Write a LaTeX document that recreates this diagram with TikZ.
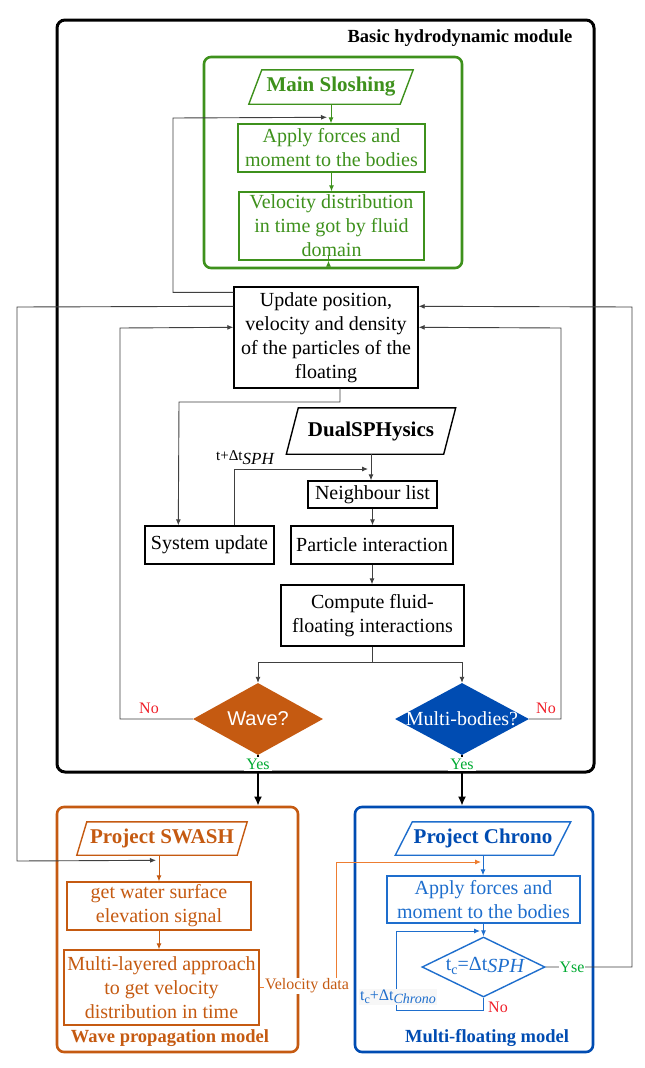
\documentclass[tikz,border=0pt]{standalone}
\usepackage{fontspec}
\setmainfont{Liberation Serif}
\newfontfamily\arialf{Liberation Sans}
\usetikzlibrary{arrows.meta,calc,shapes.geometric}
\definecolor{gC}{RGB}{62,145,28}
\definecolor{oC}{RGB}{197,90,17}
\definecolor{oL}{RGB}{237,125,49}
\definecolor{bD}{RGB}{0,76,178}
\definecolor{bM}{RGB}{30,110,205}
\definecolor{rC}{RGB}{240,30,40}
\definecolor{yC}{RGB}{0,170,50}
\definecolor{lnC}{RGB}{64,64,64}
\newcommand\myfz{\fontsize{20}{24}\selectfont}
\newcommand\myfb{\fontsize{21}{25}\selectfont\bfseries}
\newcommand\myft{\fontsize{18.5}{22}\selectfont\bfseries}
\newcommand\myfl{\fontsize{16}{18}\selectfont}
\begin{document}
\begin{tikzpicture}[x=1pt,y=-1pt,
  box/.style={draw, rectangle, inner sep=0pt, align=center, font=\myfz, line width=1.4pt},
  cont/.style={draw, rectangle, rounded corners=7pt, line width=2.6pt, inner sep=0pt},
  ptxt/.style={inner sep=0pt, font=\myfb},
  conn/.style={line width=0.9pt, draw=lnC},
  arr/.style={-{Latex[length=6pt,width=5pt]}},
  bigarr/.style={line width=2.2pt, draw=black, -{Latex[length=9pt,width=8pt]}},
  lbl/.style={inner sep=1.5pt, font=\myfl},
  dia/.style={diamond, inner sep=0pt}]
\useasboundingbox (0,0) rectangle (645,1068);
\fill[white] (0,0) rectangle (645,1068);

% containers
\node[cont, draw=black, line width=3pt, rounded corners=8pt, minimum width=537pt, minimum height=752pt] (basic) at (325.5,396) {};
\node[font=\myft] (basict) at (460,38) {Basic hydrodynamic module};
\node[cont, draw=gC, minimum width=258pt, minimum height=211pt] (gbox) at (333,162.5) {};
\node[cont, draw=oC, minimum width=241pt, minimum height=245pt] (obox) at (177.5,929.5) {};
\node[cont, draw=bD, minimum width=238pt, minimum height=245pt] (bbox) at (474,929.5) {};
\node[font=\myft, text=oC] (obt) at (170,1038) {Wave propagation model};
\node[font=\myft, text=bD] (bbt) at (487,1038) {Multi-floating model};

% green module
\node[ptxt, text=gC, minimum width=151pt, minimum height=34pt] (ms) at (331,87) {Main Sloshing};
\draw[gC, line width=1.4pt] ($(ms.south west)+(-6.5,0)$) -- ($(ms.north west)+(6.5,0)$) -- ($(ms.north east)+(6.5,0)$) -- ($(ms.south east)+(-6.5,0)$) -- cycle;
\node[box, draw=gC, text=gC, minimum width=187pt, minimum height=48pt] (ap1) at (331.5,148) {Apply forces and\\moment to the bodies};
\node[box, draw=gC, text=gC, minimum width=185pt, minimum height=68pt] (vel) at (331.5,226) {Velocity distribution\\in time got by fluid\\domain};

% black module
\node[box, minimum width=184pt, minimum height=101pt] (upd) at (326,337.5) {Update position,\\velocity and density\\of the particles of the\\floating};
\node[ptxt, minimum width=157pt, minimum height=46pt] (dual) at (371,431) {DualSPHysics};
\draw[black, line width=1.4pt] ($(dual.south west)+(-6,0)$) -- ($(dual.north west)+(6,0)$) -- ($(dual.north east)+(6,0)$) -- ($(dual.south east)+(-6,0)$) -- cycle;
\node[box, minimum width=129pt, minimum height=27pt] (neigh) at (372.5,494.5) {Neighbour list};
\node[box, minimum width=129pt, minimum height=38pt] (sys) at (209.5,545) {System update};
\node[box, minimum width=162pt, minimum height=38pt] (part) at (372,545) {Particle interaction};
\node[box, minimum width=183pt, minimum height=61pt] (comp) at (372.5,615.5) {Compute fluid-\\floating interactions};
\node[dia, fill=oC, minimum width=130pt, minimum height=72pt] (wave) at (258,719) {};
\node[text=white, font=\arialf\fontsize{20}{24}\selectfont] (wavet) at (wave) {Wave?};
\node[dia, fill=bD, minimum width=134pt, minimum height=72pt] (multi) at (462,719) {};
\node[text=white, font=\myfz] (multit) at (multi) {Multi-bodies?};

% orange module
\node[ptxt, text=oC, minimum width=160pt, minimum height=33pt] (swash) at (162,838.5) {Project SWASH};
\draw[oC, line width=1.4pt] ($(swash.south west)+(-5,0)$) -- ($(swash.north west)+(5,0)$) -- ($(swash.north east)+(5,0)$) -- ($(swash.south east)+(-5,0)$) -- cycle;
\node[box, draw=oC, text=oC, minimum width=184pt, minimum height=48pt] (getw) at (159,906) {get water surface\\elevation signal};
\node[box, draw=oC, text=oC, minimum width=195pt, minimum height=75pt] (mlay) at (161.5,987.5) {Multi-layered approach\\to get velocity\\distribution in time};

% blue module
\node[ptxt, text=bD, minimum width=158pt, minimum height=33pt] (chrono) at (483,838.5) {Project Chrono};
\draw[bM, line width=1.4pt] ($(chrono.south west)+(-8.5,0)$) -- ($(chrono.north west)+(8.5,0)$) -- ($(chrono.north east)+(8.5,0)$) -- ($(chrono.south east)+(-8.5,0)$) -- cycle;
\node[box, draw=bM, text=bM, minimum width=193pt, minimum height=47pt] (ap2) at (483.5,899.5) {Apply forces and\\moment to the bodies};
\node[dia, draw=bM, line width=1.4pt, minimum width=123pt, minimum height=60pt] (tcd) at (483.5,967) {};
\node[text=bM, font=\myfz, inner sep=0pt] (tcdt) at (485,966) {t\raisebox{-4pt}{\fontsize{14}{14}\selectfont c}=Δt\raisebox{-2pt}{\itshape SPH}};

% green connectors
\draw[gC, line width=0.9pt, arr] (ms.south |- ms.south) -- (ms.south |- ap1.north);
\draw[gC, line width=0.9pt, arr] (ap1.south) -- (vel.north);
\draw[gC, line width=0.9pt, arr] ($(vel.south)+(-3,0)$) -- ($(vel.south)+(-3,0)$ |- upd.north);

% black connectors
\coordinate (loopA) at ($(ap1.north)+(-4.5,-6)$);
\draw[conn, arr] ($(upd.north west)+(0,6)$) -| (173,118) -- (loopA);
\coordinate (swin) at ($(getw.north)+(-3,-21)$);
\draw[conn, arr] ($(upd.north west)+(0,20)$) -- (17,307) -- (17,861) -- (swin);
\draw[conn, arr] (tcd.east) -- (632,967) -- (632,307) -- ($(upd.north east)+(0,20)$);
\draw[conn, arr] (wave.west) -- (120,719) -- (120,328) -- ($(upd.north west)+(0,41)$);
\draw[conn, arr] (multi.east) -- (561,719) -- (561,328) -- ($(upd.north east)+(0,41)$);
\draw[conn, arr] ($(upd.south)+(14,0)$) -- (340,402) -- (179,402) -- ($(sys.north west)+(34,0)$);
\coordinate (dtin) at (368,469);
\draw[conn, arr] ($(sys.north)+(24.5,0)$) -- (234,469) -- (dtin);
\draw[conn, arr] (dual.south) -- (dual.south |- neigh.north);
\draw[conn, arr] (neigh.south) -- (neigh.south |- part.north);
\draw[conn, arr] (part.south) -- (part.south |- comp.north);
\draw[conn, arr] (comp.south) -- ($(comp.south)+(0,16)$) -| (wave.north);
\draw[conn, arr] (comp.south) -- ($(comp.south)+(0,16)$) -| (multi.north);
\draw[bigarr] (wave.south) -- (wave.south |- obox.north);
\draw[bigarr] (multi.south) -- (multi.south |- bbox.north);

% orange connectors
\draw[oC, line width=0.9pt, arr] (getw.north |- swash.south) -- (getw.north);
\draw[oC, line width=0.9pt, arr] (getw.south) -- (getw.south |- mlay.north);
\coordinate (vdin) at (481,862);
\draw[oL, line width=0.9pt, arr] (mlay.east) -- (336,987.5) -- (336,862) -- (vdin);

% blue connectors
\draw[bM, line width=0.9pt, arr] (chrono.south) -- (chrono.south |- ap2.north);
\draw[bM, line width=0.9pt, arr] (ap2.south) -- (ap2.south |- tcd.north);
\coordinate (tcin) at (480,931);
\draw[bM, line width=0.9pt, arr] (tcd.south) -- (483.5,1010) -- (396,1010) -- (396,931) -- (tcin);

% labels
\node[lbl, fill=white] (dtl) at (245,458) {{\fontsize{15}{15}\selectfont t+Δt}\raisebox{-4pt}{\fontsize{17}{17}\selectfont\itshape SPH}};
\node[lbl, text=rC] (no1) at (149,708) {No};
\node[lbl, text=rC] (no2) at (546,708) {No};
\node[lbl, text=yC, fill=white, inner sep=2pt] (yes1) at (258,764) {Yes};
\node[lbl, text=yC, fill=white, inner sep=2pt] (yes2) at (462,764) {Yes};
\node[lbl, text=oC, fill=white, inner sep=1pt] (vdl) at (307,986) {Velocity data};
\node[lbl, text=yC, fill=white, inner sep=1pt] (yse) at (572,967) {Yse};
\node[lbl, text=rC] (no3) at (498,1007) {No};
\node[lbl, text=bM, fill=black!3, inner sep=1pt] (tcl) at (398,997) {t\raisebox{-3pt}{\fontsize{12}{12}\selectfont c}+Δt\raisebox{-3pt}{\fontsize{14}{14}\selectfont\itshape Chrono}};
\end{tikzpicture}
\end{document}
